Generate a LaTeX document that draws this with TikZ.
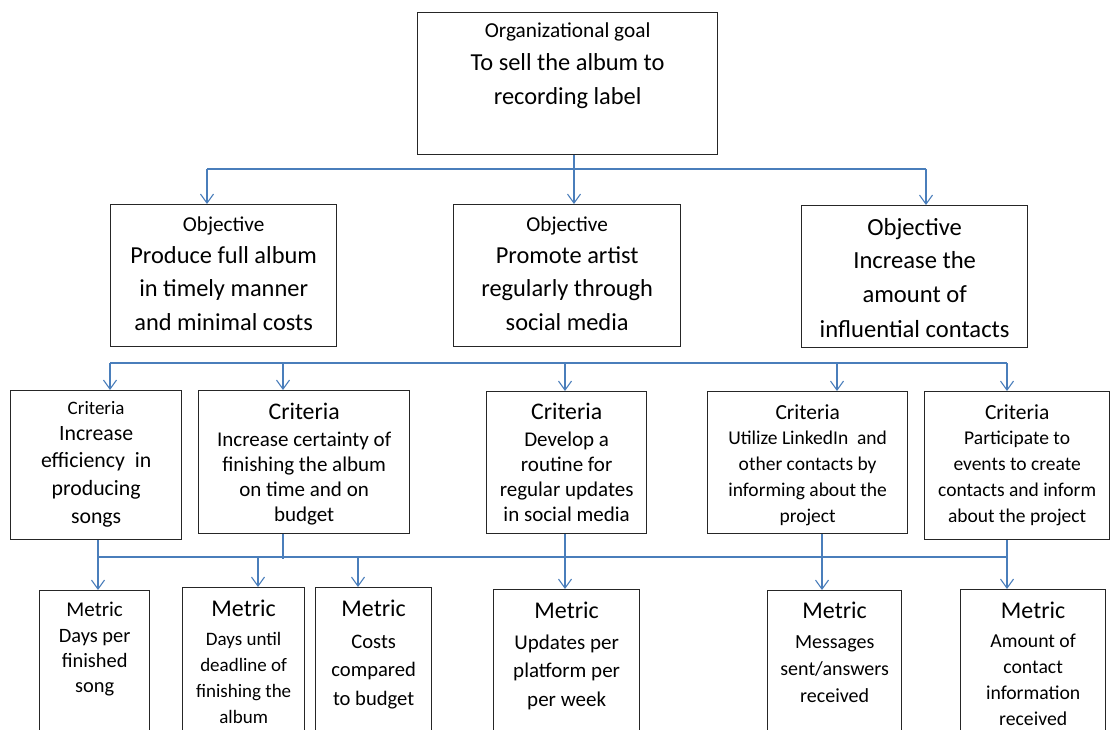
\documentclass[tikz,border=0pt]{standalone}
\usepackage{fontspec}
\setmainfont{Carlito}
\usetikzlibrary{arrows.meta}
\definecolor{linkblue}{RGB}{74,126,187}
\definecolor{frameink}{RGB}{38,38,38}

% rectangle given by its corners (x1,y1) and (x2,y2), pixel-like units
\newcommand\boxnode[5]{%
  \node[box, anchor=north west, minimum width={(#4)-(#2)}, minimum height={(#5)-(#3)}] (#1) at (#2,#3) {};}

% centred lines of text in box #1: tag #2, first baseline #3, spacing #4, size #5
\newcommand\textlines[6]{%
  \foreach \t [count=\i, evaluate=\i as \yy using #3+(\i-1)*(#4)] in {#6}
    \node[anchor=base, inner sep=0pt, font=\fontsize{#5}{#5}\selectfont] (#1-#2\i) at (#1.north |- 0,\yy) {\t};}

\begin{document}
\begin{tikzpicture}[x=1pt, y=-1pt,
  box/.style={draw=frameink, line width=1.3pt, rectangle, inner sep=0pt, fill=white},
  conn/.style={draw=linkblue, line width=1.1pt},
  arr/.style={conn, -{Straight Barb[length=9pt, width=13pt]}}]

\useasboundingbox (0,0) rectangle (1112,729);
\clip (0,0) rectangle (1112,729);
\fill[white] (0,0) rectangle (1112,729);

% ---- goal ----
\boxnode{g}{417}{12}{717}{154}
\textlines{g}{h}{37}{0}{21.3}{Organizational goal}
\textlines{g}{l}{70}{34}{24.4}{To sell the album to, recording label}

% ---- objectives ----
\boxnode{o1}{110}{204}{336}{346}
\textlines{o1}{h}{231}{0}{21.2}{Objective}
\textlines{o1}{l}{263}{33.5}{24.4}{Produce full album, in timely manner, and minimal costs}

\boxnode{o2}{453}{204}{680}{346}
\textlines{o2}{h}{231}{0}{21.2}{Objective}
\textlines{o2}{l}{263}{33.5}{24.4}{Promote artist, regularly through, social media}

\boxnode{o3}{801}{205}{1027}{347}
\textlines{o3}{h}{235}{0}{24.6}{Objective}
\textlines{o3}{l}{268}{34.5}{24.6}{Increase the, amount of, influential contacts}

% ---- criteria ----
\boxnode{c1}{10}{390}{181}{539}
\textlines{c1}{h}{414}{0}{19}{Criteria}
\textlines{c1}{l}{440}{27.7}{21.8}{Increase, efficiency~ in, producing, songs}

\boxnode{c2}{198}{390}{409}{533}
\textlines{c2}{h}{419}{0}{23.8}{Criteria}
\textlines{c2}{l}{446}{25.3}{21}{Increase certainty of, finishing the album, on time and on, budget}

\boxnode{c3}{486}{391}{646}{533}
\textlines{c3}{h}{419}{0}{23.8}{Criteria}
\textlines{c3}{l}{446}{25.3}{21}{Develop a, routine for, regular updates, in social media}

\boxnode{c4}{707}{391}{907}{533}
\textlines{c4}{h}{419}{0}{21.5}{Criteria}
\textlines{c4}{l}{444}{26.3}{19.5}{Utilize LinkedIn~ and, other contacts by, informing about the, project}

\boxnode{c5}{924}{391}{1109}{539}
\textlines{c5}{h}{419}{0}{21.5}{Criteria}
\textlines{c5}{l}{444}{26.3}{19.5}{Participate to, events to create, contacts and inform, about the project}

% ---- metrics ----
\boxnode{m1}{39}{590}{149}{745}
\textlines{m1}{h}{616}{0}{21}{Metric}
\textlines{m1}{l}{642}{25}{20.4}{Days per, finished, song}

\boxnode{m2}{182}{587}{304}{745}
\textlines{m2}{h}{616}{0}{24}{Metric}
\textlines{m2}{l}{645}{26.3}{19}{Days until, deadline of, finishing the, album}

\boxnode{m3}{315}{587}{431}{745}
\textlines{m3}{h}{616}{0}{24}{Metric}
\textlines{m3}{l}{648}{28.5}{20.6}{Costs, compared, to budget}

\boxnode{m4}{493}{589}{639}{745}
\textlines{m4}{h}{618}{0}{24}{Metric}
\textlines{m4}{l}{649}{28.5}{21}{Updates per, platform per, per week}

\boxnode{m5}{767}{590}{901}{745}
\textlines{m5}{h}{618}{0}{24}{Metric}
\textlines{m5}{l}{648}{27}{20}{Messages, sent/answers, received}

\boxnode{m6}{960}{589}{1105}{745}
\textlines{m6}{h}{618}{0}{24}{Metric}
\textlines{m6}{l}{647}{26}{19.7}{Amount of, contact, information, received}

% ---- goal to objectives ----
\coordinate (t1) at (207,169);
\coordinate (t2) at (574,169);
\coordinate (t3) at (926,169);
\draw[conn] (g.south -| t2) -- (t2);
\draw[conn] (t1) -- (t3);
\draw[arr] (t1) -- (t1 |- o1.north);
\draw[arr] (t2) -- (t2 |- o2.north);
\draw[arr] (t3) -- (t3 |- o3.north);

% ---- bar above the criteria ----
\coordinate (k1) at (110,363);
\coordinate (k2) at (283,363);
\coordinate (k3) at (565,363);
\coordinate (k4) at (837,363);
\coordinate (k5) at (1007,363);
\draw[conn] (k1) -- (k5);
\draw[arr] (k1) -- (k1 |- c1.north);
\draw[arr] (k2) -- (k2 |- c2.north);
\draw[arr] (k3) -- (k3 |- c3.north);
\draw[arr] (k4) -- (k4 |- c4.north);
\draw[arr] (k5) -- (k5 |- c5.north);

% ---- criteria to metrics ----
\coordinate (b1) at (98,557);
\coordinate (b2) at (258,557);
\coordinate (b3) at (358,557);
\coordinate (b4) at (565,557);
\coordinate (b5) at (822,557);
\coordinate (b6) at (1007,557);
\coordinate (s2) at (283,559);
\draw[conn] (b1) -- (b6);
\draw[conn] (c2.south -| s2) -- (s2);
\draw[conn] (c1.south -| b1) -- (b1);
\draw[conn] (c3.south -| b4) -- (b4);
\draw[conn] (c4.south -| b5) -- (b5);
\draw[conn] (c5.south -| b6) -- (b6);
\draw[arr] (b1) -- (b1 |- m1.north);
\draw[arr] (b2) -- (b2 |- m2.north);
\draw[arr] (b3) -- (b3 |- m3.north);
\draw[arr] (b4) -- (b4 |- m4.north);
\draw[arr] (b5) -- (b5 |- m5.north);
\draw[arr] (b6) -- (b6 |- m6.north);
\end{tikzpicture}
\end{document}
